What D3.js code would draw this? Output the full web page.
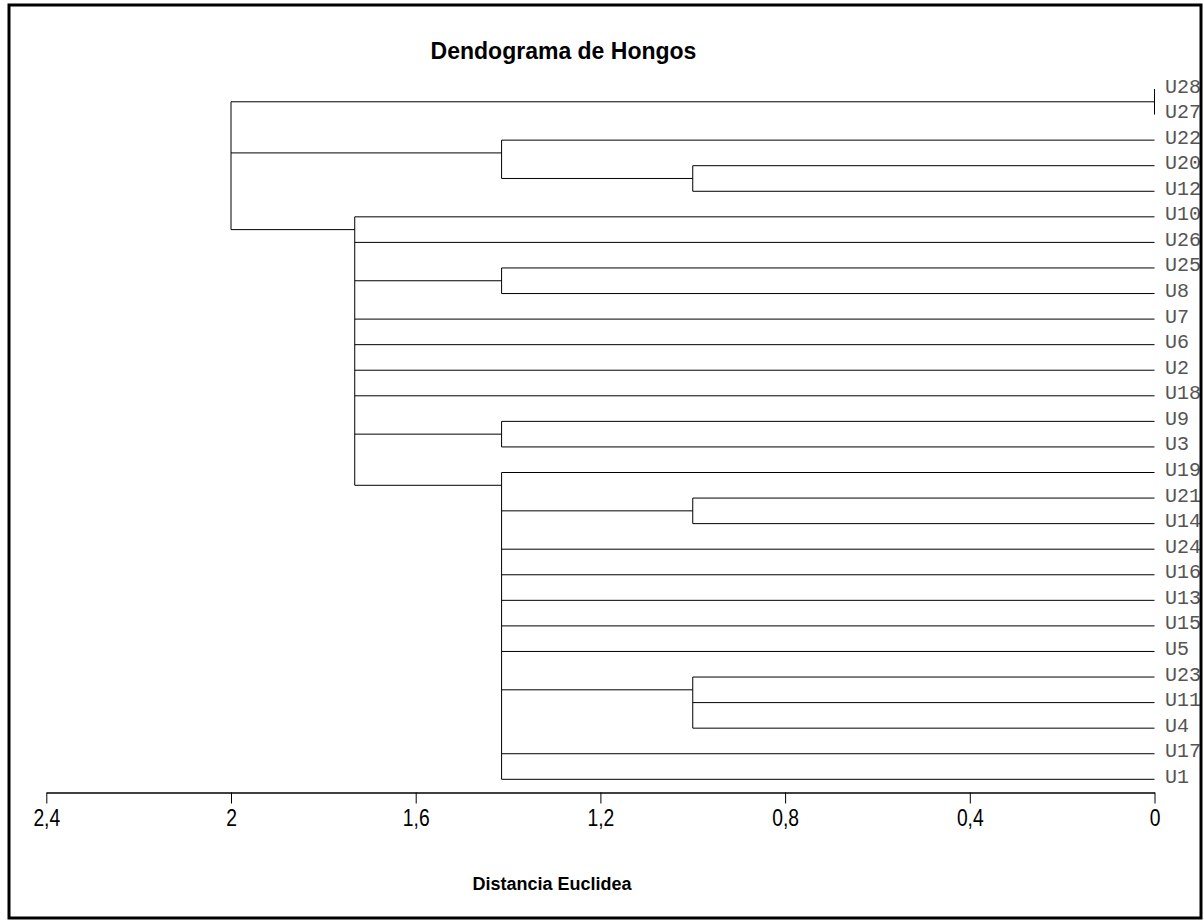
<!DOCTYPE html>
<html>
<head>
<meta charset="utf-8">
<style>
body { margin: 0; background: #fff; }
.link { fill: none; stroke: #000; stroke-width: 1; }
.leaf-label { font-family: "Liberation Mono", "Courier New", monospace; font-size: 20px; fill: #555; }
.axis path, .axis line { stroke: #000; }
.axis path { stroke-width: 1.3; }
.axis text { font-family: "Liberation Sans Narrow", "Arial Narrow", "Liberation Sans", sans-serif; font-size: 23px; fill: #000; }
.title { font: bold 23px "Liberation Sans", Arial, sans-serif; }
.xlabel { font: bold 18px "Liberation Sans", Arial, sans-serif; }
.frame { fill: none; stroke: #000; stroke-width: 3; }
</style>
</head>
<body>
<svg width="1204" height="920"></svg>
<script src="https://cdn.jsdelivr.net/npm/d3@7"></script>
<script>

// leaves, top to bottom, and the cluster each one joins first
var leaves = ["U28","U27","U22","U20","U12","U10","U26","U25","U8","U7","U6","U2","U18",
              "U9","U3","U19","U21","U14","U24","U16","U13","U15","U5","U23","U11","U4","U17","U1"];
var leafParent = ["A","A","B","B1","B1","C","C","C1","C1","C","C","C","C",
                  "C2","C2","D","D1","D1","D","D","D","D","D","D2","D2","D2","D","D"];

// internal nodes: id, parent, merge distance
var clusterIds     = ["root", "A",    "B",     "B1", "C",     "C1",  "C2",  "D",   "D1", "D2"];
var clusterParent  = [null,   "root", "root",  "B",  "root",  "C",   "C",   "C",   "D",  "D"];
var clusterHeight  = [2.0,    0,      1.414,   1.0,  1.732,   1.414, 1.414, 1.414, 1.0,  1.0];

var tickValues = [2.4, 2, 1.6, 1.2, 0.8, 0.4, 0];

var svg = d3.select("svg");

var rows = clusterIds.map(function(id, i) {
    return {id: id, parent: clusterParent[i], h: clusterHeight[i]};
  }).concat(leaves.map(function(id, i) {
    return {id: id, parent: leafParent[i], h: 0};
  }));

var root = d3.stratify()
    .id(function(d) { return d.id; })
    .parentId(function(d) { return d.parent; })(rows);

var x = d3.scaleLinear().domain([2.4, 0]).range([46.3, 1154.5]);
var y = d3.scalePoint().domain(leaves).range([89, 779.3]);

// node sits between the first two leaves of its group
root.eachAfter(function(n) {
  n.px = x(n.data.h);
  if (!n.children) {
    n.py = y(n.id);
  } else {
    var ys = n.leaves().map(function(l) { return y(l.id); }).sort(d3.ascending);
    n.py = (ys[0] + ys[1]) / 2;
  }
});

var paths = [];
root.each(function(n) {
  if (!n.children) return;
  var cy = n.children.map(function(c) { return c.py; });
  paths.push("M" + n.px + "," + d3.min(cy) + "V" + d3.max(cy));
  n.children.forEach(function(c) {
    if (c.px !== n.px) paths.push("M" + n.px + "," + c.py + "H" + c.px);
  });
});

svg.append("g").selectAll("path")
    .data(paths)
  .enter().append("path")
    .attr("class", "link")
    .attr("d", function(d) { return d; });

svg.append("g").selectAll("text")
    .data(root.leaves())
  .enter().append("text")
    .attr("class", "leaf-label")
    .attr("x", 1165)
    .attr("y", function(d) { return d.py + 3.5; })
    .text(function(d) { return d.id; });

var xAxis = d3.axisBottom(x)
    .tickValues(tickValues)
    .tickSize(11)
    .tickSizeOuter(0)
    .tickPadding(6)
    .tickFormat(function(d) { return String(d).replace(".", ","); });

var gx = svg.append("g")
    .attr("class", "axis")
    .attr("transform", "translate(0,792.5)")
    .call(xAxis);

// narrow look for the tick numbers
gx.selectAll(".tick text").attr("transform", "scale(0.84,1)");

svg.append("text")
    .attr("class", "title")
    .attr("x", 563.5)
    .attr("y", 59)
    .attr("text-anchor", "middle")
    .text("Dendograma de Hongos");

svg.append("text")
    .attr("class", "xlabel")
    .attr("x", 552)
    .attr("y", 890)
    .attr("text-anchor", "middle")
    .text("Distancia Euclidea");

svg.append("rect")
    .attr("class", "frame")
    .attr("x", 9)
    .attr("y", 5)
    .attr("width", 1192)
    .attr("height", 913);

</script>
</body>
</html>
